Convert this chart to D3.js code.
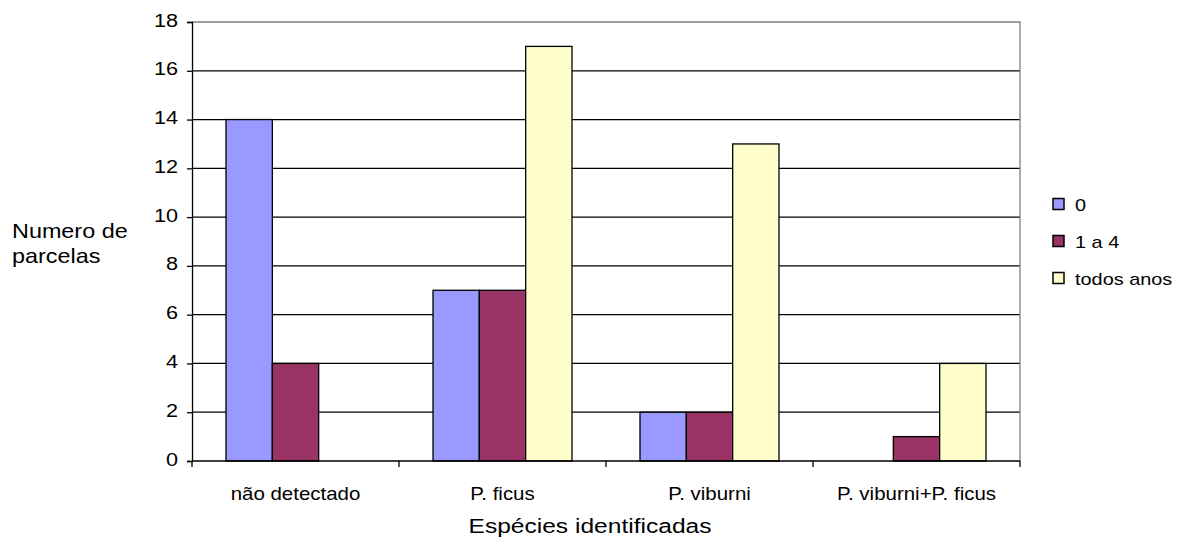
<!DOCTYPE html>
<html>
<head>
<meta charset="utf-8">
<script src="https://cdn.jsdelivr.net/npm/d3@7"></script>
<style>
  html, body { margin: 0; padding: 0; background: #fff; }
  svg text { font-family: "Liberation Sans", Arial, sans-serif; fill: #000; }
</style>
</head>
<body>
<svg id="chart" width="1181" height="539"></svg>
<script>
// Categories and series
const categories = ["não detectado", "P. ficus", "P. viburni", "P. viburni+P. ficus"];
const seriesNames = ["0", "1 a 4", "todos anos"];
const seriesColors = ["#9999FF", "#993366", "#FFFFCC"];
const valuesZero = [14, 7, 2, 0];
const valuesOneToFour = [4, 7, 2, 1];
const valuesAllYears = [0, 17, 13, 4];
const yTicks = [0, 2, 4, 6, 8, 10, 12, 14, 16, 18];

const seriesValues = [valuesZero, valuesOneToFour, valuesAllYears];

const svg = d3.select("#chart");
const plot = { left: 192, right: 1020, top: 22, bottom: 461 };
const WIDE = 1.17; // horizontal glyph stretch used by all labels

// Move a text's x/y into a transform so it can be widened around its anchor
function widen(sel) {
  sel.each(function () {
    const t = d3.select(this);
    const x = +t.attr("x") || 0, y = +t.attr("y") || 0;
    const prev = t.attr("transform") || "";
    t.attr("x", 0).attr("y", 0)
      .attr("transform", `${prev} translate(${x},${y}) scale(${WIDE},1)`);
  });
}

const x = d3.scaleBand().domain(categories).range([plot.left, plot.right]).paddingInner(0).paddingOuter(0);
const groupPad = 34;
const xs = d3.scaleBand().domain(seriesNames)
  .range([groupPad, x.bandwidth() - groupPad]).padding(0);
const y = d3.scaleLinear().domain([0, 18]).range([plot.bottom, plot.top]);

// Gridlines
svg.append("g").selectAll("line").data(yTicks.filter(d => d > 0 && d < 18)).join("line")
  .attr("x1", plot.left).attr("x2", plot.right)
  .attr("y1", d => y(d)).attr("y2", d => y(d))
  .attr("stroke", "#000").attr("stroke-width", 1.3);

// Plot frame (top & right)
svg.append("path")
  .attr("d", `M${plot.left},${y(18)}H${plot.right}V${plot.bottom}`)
  .attr("fill", "none").attr("stroke", "#808080").attr("stroke-width", 1.3);

// Bars
const rows = [];
categories.forEach((c, i) => {
  seriesNames.forEach((s, j) => {
    rows.push({ c, s, j, v: seriesValues[j][i] });
  });
});
svg.append("g").selectAll("rect").data(rows.filter(d => d.v > 0)).join("rect")
  .attr("x", d => x(d.c) + xs(d.s))
  .attr("width", xs.bandwidth())
  .attr("y", d => y(d.v))
  .attr("height", d => y(0) - y(d.v))
  .attr("fill", d => seriesColors[d.j])
  .attr("stroke", "#000").attr("stroke-width", 1.3);

// Y axis
const yAxis = svg.append("g").attr("transform", `translate(${plot.left},0)`)
  .call(d3.axisLeft(y).tickValues(yTicks).tickSize(5).tickPadding(9).tickFormat(d3.format("d")));
yAxis.select(".domain").attr("stroke", "#000").attr("stroke-width", 1.3);
yAxis.selectAll(".tick line").attr("stroke", "#000").attr("stroke-width", 1.3);
yAxis.selectAll("text").style("font-size", "18.5px").attr("dy", null).attr("y", 4);
widen(yAxis.selectAll("text"));

// X axis
const xAxis = svg.append("g").attr("transform", `translate(0,${plot.bottom})`)
  .call(d3.axisBottom(x).tickSize(0).tickPadding(0));
xAxis.select(".domain").attr("d", `M${plot.left},0H${plot.right}`).attr("stroke", "#000").attr("stroke-width", 1.3);
xAxis.selectAll("text").style("font-size", "17.5px").attr("dy", null).attr("y", 38.5);
widen(xAxis.selectAll("text"));
const boundaries = categories.map(c => x(c)).concat([plot.right]);
svg.append("g").selectAll("line").data(boundaries).join("line")
  .attr("x1", d => d).attr("x2", d => d)
  .attr("y1", plot.bottom).attr("y2", plot.bottom + 6)
  .attr("stroke", "#000").attr("stroke-width", 1.3);

// Axis titles
svg.append("text").attr("x", (plot.left + plot.right) / 2 - 16).attr("y", 533)
  .attr("text-anchor", "middle").style("font-size", "21px").text("Espécies identificadas")
  .call(widen);
const yt = svg.append("text").attr("x", 12).attr("y", 237.5).style("font-size", "20px");
yt.append("tspan").attr("x", 0).text("Numero de");
yt.append("tspan").attr("x", 0).attr("dy", 26).text("parcelas");
widen(yt);

// Legend
const legend = svg.append("g").attr("transform", "translate(1053,198.5)");
const lg = legend.selectAll("g").data(seriesNames).join("g")
  .attr("transform", (d, i) => `translate(0,${i * 37})`);
lg.append("rect").attr("width", 11).attr("height", 11)
  .attr("fill", (d, i) => seriesColors[i]).attr("stroke", "#000").attr("stroke-width", 1.5);
lg.append("text").attr("x", 22).attr("y", 12.5).style("font-size", "17px").text(d => d)
  .call(widen);
</script>
</body>
</html>
